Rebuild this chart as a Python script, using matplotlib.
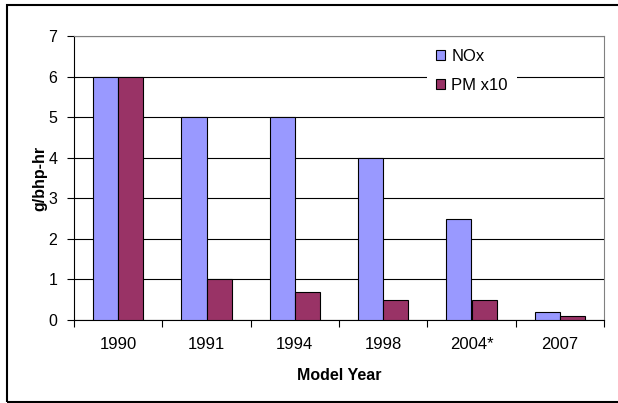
import matplotlib
matplotlib.use("Agg")
import matplotlib.pyplot as plt
import numpy as np
from matplotlib.patches import Rectangle

categories = ["1990", "1991", "1994", "1998", "2004*", "2007"]
nox = [6, 5, 5, 4, 2.5, 0.2]
pm_x10 = [6, 1, 0.7, 0.5, 0.5, 0.1]
yticks = [0, 1, 2, 3, 4, 5, 6, 7]

plt.rcParams['font.family'] = ['Liberation Sans', 'DejaVu Sans']

W, H = 618, 403
fig = plt.figure(figsize=(W / 100, H / 100), dpi=100)
fig.patch.set_facecolor('white')

# outer frame
fig.patches.append(Rectangle((7 / W, 1 - 402 / H), (W + 5 - 7) / W, (402 - 5) / H,
                             transform=fig.transFigure, fill=False,
                             edgecolor='black', linewidth=1.5, clip_on=False))

ax = fig.add_axes([74 / W, 1 - 320 / H, (604 - 74) / W, (320 - 36) / H])

x = np.arange(len(categories))
w = 1 / 3.5
ax.bar(x - w / 2, nox, width=w, color='#9999FF', edgecolor='black', linewidth=0.8,
       label='NOx', zorder=3)
ax.bar(x + w / 2, pm_x10, width=w, color='#993366', edgecolor='black', linewidth=0.8,
       label='PM x10', zorder=3)

ax.set_xlim(-0.5, len(categories) - 0.5)
ax.set_ylim(0, 7)
ax.set_yticks(yticks)
ax.set_yticklabels([str(t) for t in yticks], fontsize=11.5)
ax.yaxis.grid(True, color='black', linewidth=0.8, zorder=0)
ax.set_axisbelow(True)

ax.set_xticks(np.arange(len(categories) + 1) - 0.5)
ax.set_xticklabels([])
ax.set_xticks(x, minor=True)
ax.set_xticklabels(categories, minor=True, fontsize=12)
ax.tick_params(axis='x', which='minor', length=0, pad=12)
ax.tick_params(axis='x', which='major', length=5, width=0.8, direction='out')
ax.tick_params(axis='y', length=5, width=0.8, direction='out', pad=7)

for s in ['top', 'right']:
    ax.spines[s].set_color('#808080')
    ax.spines[s].set_linewidth(0.8)
for s in ['left', 'bottom']:
    ax.spines[s].set_color('black')
    ax.spines[s].set_linewidth(0.8)

ax.set_xlabel('Model Year', fontsize=11.5, fontweight='bold', labelpad=12)
ax.set_ylabel('g/bhp-hr', fontsize=11.5, fontweight='bold')
ax.yaxis.set_label_coords((47 - 74) / 530, 0.5)

leg = ax.legend(loc='upper left', bbox_to_anchor=(427 / W, 1 - 40 / H),
                bbox_transform=fig.transFigure, fontsize=12, frameon=True,
                fancybox=False, framealpha=1, edgecolor='none', facecolor='white',
                handlelength=0.55, handleheight=0.55, handletextpad=0.35,
                labelspacing=0.85, borderpad=0.55, borderaxespad=0)
leg.set_zorder(5)

fig.savefig('out.png', dpi=100)
